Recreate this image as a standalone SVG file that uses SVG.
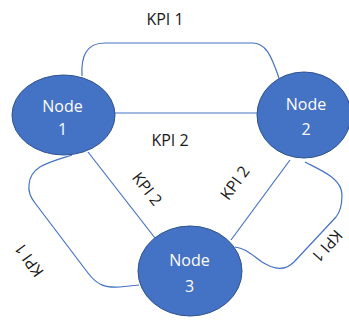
<svg xmlns="http://www.w3.org/2000/svg" width="349" height="320" viewBox="0 0 349 320">
  <style>
    .edge { fill: none; stroke: #4472C4; stroke-width: 1.2; }
    .node { fill: #4472C4; stroke: #2F528F; stroke-width: 1; }
    .ntext { font-family: "Open Sans", "Liberation Sans", sans-serif; font-size: 16px; fill: #FFFFFF; text-anchor: middle; }
    .label { font-family: "Open Sans", "Liberation Sans", sans-serif; font-size: 16px; fill: #1A1A1A; text-anchor: middle; }
  </style>
  <rect width="349" height="320" fill="#FFFFFF"/>

  <!-- connectors -->
  <g id="connectors">
    <path class="edge" d="M 82,76 C 81,58 85,43 105,43 L 252,43 C 266,43 271,55 279,78"/>
    <path class="edge" d="M 114,113 L 258,113"/>
    <path class="edge" d="M 88,152 L 155,238"/>
    <path class="edge" d="M 231,240 L 290,160"/>
    <path class="edge" d="M 72,155 C 50,162 30,166 29,185 C 28,193 31,198 35,203 L 88,273 C 97,285 105,288 120,287 L 139,285"/>
    <path class="edge" d="M 305,162 C 320,170 342,178 342,195 C 342,205 340,212 336,217 L 294,262 C 285,271 275,270 262,262 C 252,255 245,248 235,247"/>
  </g>

  <!-- connector labels -->
  <g id="labels">
    <text class="label" x="165" y="25">KPI 1</text>
    <text class="label" x="170" y="146">KPI 2</text>
    <text class="label" transform="translate(147,189) rotate(52)" y="5.5">KPI 2</text>
    <text class="label" transform="translate(235,183) rotate(-54)" y="5.5">KPI 2</text>
    <text class="label" transform="translate(29,260) rotate(234)" y="5.5">KPI 1</text>
    <text class="label" transform="translate(327,246) rotate(132)" y="5.5">KPI 1</text>
  </g>

  <g id="node1">
    <ellipse class="node" cx="63.5" cy="115" rx="51.5" ry="40"/>
    <text class="ntext" x="62.5" y="112">Node</text>
    <text class="ntext" x="62.5" y="135">1</text>
  </g>
  <g id="node2">
    <ellipse class="node" cx="304" cy="115" rx="47" ry="43"/>
    <text class="ntext" x="306" y="110">Node</text>
    <text class="ntext" x="306" y="135">2</text>
  </g>
  <g id="node3">
    <ellipse class="node" cx="190" cy="271" rx="52" ry="45"/>
    <text class="ntext" x="189.5" y="266">Node</text>
    <text class="ntext" x="189.5" y="292">3</text>
  </g>
</svg>
